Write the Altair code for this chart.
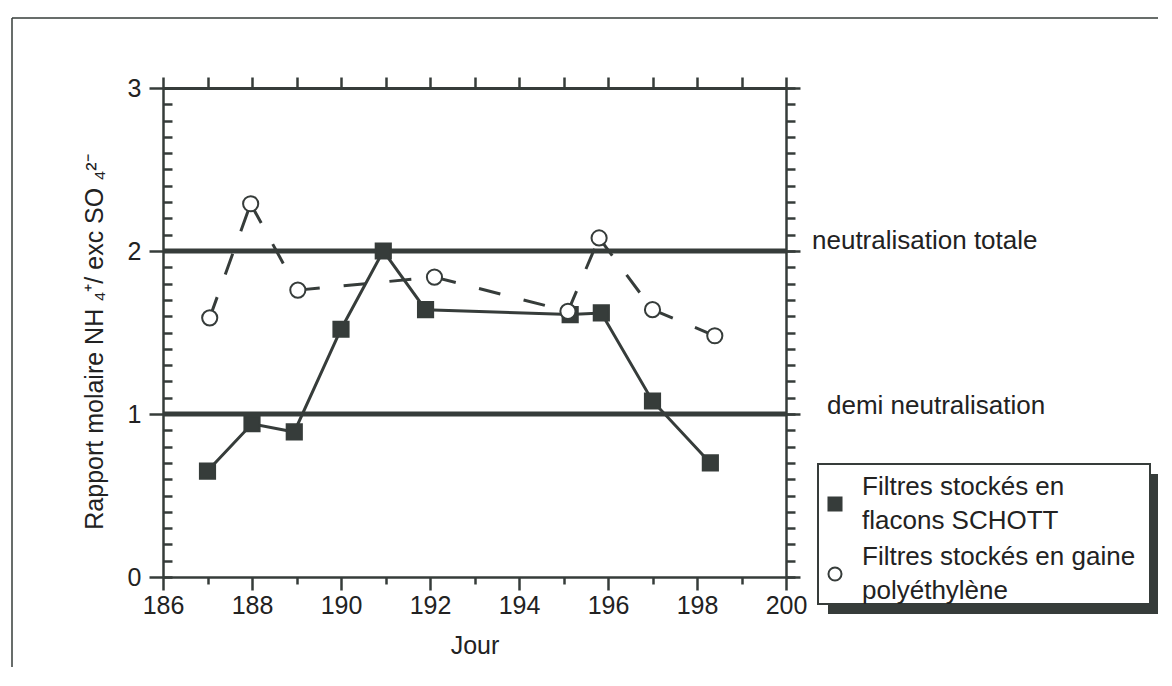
import altair as alt
import pandas as pd

# ---- data ----
sq_day = [187.0, 188.0, 188.95, 190.0, 190.95, 191.9, 195.15, 195.85, 197.0, 198.3]
sq_ratio = [0.65, 0.94, 0.89, 1.52, 2.0, 1.64, 1.61, 1.62, 1.08, 0.70]
ci_day = [187.05, 187.97, 189.03, 192.1, 195.1, 195.8, 197.0, 198.4]
ci_ratio = [1.59, 2.29, 1.76, 1.84, 1.63, 2.08, 1.64, 1.48]
series_names = ["Filtres stockés en|flacons SCHOTT", "Filtres stockés en gaine|polyéthylène"]
ref_levels = [2, 1]
ref_labels = ["neutralisation totale", "demi neutralisation"]
x_major = [186, 188, 190, 192, 194, 196, 198, 200]
x_minor = [187, 189, 191, 193, 195, 197, 199]
x_all = list(range(186, 201))
y_major = [0, 1, 2, 3]
y_minor = [round(i / 10, 1) for i in range(31)]

INK = "#363c3a"
TXT = "#222222"
FONT = "Liberation Sans"
W, H = 623, 489

sq_df = pd.DataFrame({"day": sq_day, "ratio": sq_ratio, "serie": series_names[0]})
ci_df = pd.DataFrame({"day": ci_day, "ratio": ci_ratio, "serie": series_names[1]})
pts_df = pd.concat([sq_df, ci_df], ignore_index=True)
seg_rows = []
for i in range(len(ci_day) - 1):
    seg_rows.append({"seg": i, "day": ci_day[i], "ratio": ci_ratio[i]})
    seg_rows.append({"seg": i, "day": ci_day[i + 1], "ratio": ci_ratio[i + 1]})
seg_df = pd.DataFrame(seg_rows)
ref_df = pd.DataFrame({"level": ref_levels, "label": ref_labels})

xs = alt.Scale(domain=[186, 200], nice=False, zero=False)
ys = alt.Scale(domain=[0, 3], nice=False, zero=False)

common = dict(grid=False, domainColor=INK, tickColor=INK, labelColor=TXT,
              titleColor=TXT, labelFont=FONT, titleFont=FONT, tickWidth=2.5,
              domainWidth=2.5)

X1 = alt.Axis(orient="bottom", values=x_major, tickSize=13, labelFontSize=25,
              labelPadding=3, labelFlush=False, labelOverlap=False, title="Jour",
              titleFontSize=25, titleFontWeight="normal", titlePadding=15, **common)
X2 = alt.Axis(orient="bottom", values=x_minor, tickSize=7, labels=False,
              domain=False, title=None, **common)
X3 = alt.Axis(orient="top", values=x_all, tickSize=11, labels=False,
              title=None, **{**common, "domainWidth": 3})
Y1 = alt.Axis(orient="left", values=y_major, tickSize=14, labelFontSize=25,
              labelPadding=8, labelFlush=False, labelOverlap=False,
              title="Rapport molaire NH ₄⁺/ exc SO ₄²⁻", titleFontSize=25,
              titleFontWeight="normal", titlePadding=20, titleY=H / 2 + 9,
              **common)
Y2 = alt.Axis(orient="right", offset=-W, values=y_minor, tickSize=9,
              labels=False, domain=False, title=None, **common)
Y3 = alt.Axis(orient="right", values=y_minor, tickSize=9, labels=False,
              title=None, **common)
Y4 = alt.Axis(orient="right", values=y_major, tickSize=14, labels=False,
              domain=False, title=None, **common)

one = alt.Data(values=[{}])

frame_top = alt.Chart(one).mark_rule(color=INK, strokeWidth=1.5).encode(
    x=alt.value(-151), x2=alt.value(W + 400), y=alt.value(-70))
frame_left = alt.Chart(one).mark_rule(color=INK, strokeWidth=1.5).encode(
    x=alt.value(-151), y=alt.value(-70), y2=alt.value(H + 120))

shadow_r = alt.Chart(one).mark_rect(color=INK).encode(
    x=alt.value(987), x2=alt.value(997), y=alt.value(386), y2=alt.value(526))
shadow_b = alt.Chart(one).mark_rect(color=INK).encode(
    x=alt.value(665), x2=alt.value(997), y=alt.value(516), y2=alt.value(526))
box = alt.Chart(one).mark_rect(fill="white", stroke=INK, strokeWidth=2).encode(
    x=alt.value(655), x2=alt.value(987), y=alt.value(376), y2=alt.value(516))

rules = alt.Chart(ref_df).mark_rule(color=INK, strokeWidth=5).encode(
    y=alt.Y("level:Q", scale=ys, axis=Y1))

annot_tot = alt.Chart(ref_df).transform_filter("datum.level == 2").mark_text(
    align="left", baseline="middle", font=FONT, fontSize=26, color=TXT,
    dx=26, dy=-10).encode(
    x=alt.X(datum=200, scale=xs, axis=None),
    y=alt.Y("level:Q", scale=ys, axis=None), text="label:N")
annot_demi = alt.Chart(ref_df).transform_filter("datum.level == 1").mark_text(
    align="left", baseline="middle", font=FONT, fontSize=26, color=TXT,
    dx=41, dy=-8).encode(
    x=alt.X(datum=200, scale=xs, axis=None),
    y=alt.Y("level:Q", scale=ys, axis=None), text="label:N")

sq_line = alt.Chart(sq_df).mark_line(color=INK, strokeWidth=3).encode(
    x=alt.X("day:Q", scale=xs, axis=X1),
    y=alt.Y("ratio:Q", scale=ys, axis=Y2))

ci_line = alt.Chart(seg_df).mark_line(color=INK, strokeWidth=3,
                                      strokeDash=[22, 24]).encode(
    x=alt.X("day:Q", scale=xs, axis=X2),
    y=alt.Y("ratio:Q", scale=ys, axis=Y3),
    detail="seg:N")

legend = alt.Legend(orient="none", legendX=659, legendY=403, title=None,
                    labelExpr="split(datum.label, '|')", labelFontSize=26,
                    labelFont=FONT, labelColor=TXT, symbolSize=170,
                    symbolStrokeWidth=2, labelOffset=14, labelBaseline="line-bottom",
                    rowPadding=10, labelLimit=500, zindex=1)

points = alt.Chart(pts_df).mark_point(filled=True, opacity=1, size=230,
                                      strokeWidth=2).encode(
    x=alt.X("day:Q", scale=xs, axis=X3),
    y=alt.Y("ratio:Q", scale=ys, axis=Y4),
    shape=alt.Shape("serie:N", scale=alt.Scale(domain=series_names,
                                               range=["square", "circle"]),
                    legend=legend),
    fill=alt.Fill("serie:N", scale=alt.Scale(domain=series_names,
                                             range=[INK, "white"]),
                  legend=legend),
    stroke=alt.Stroke("serie:N", scale=alt.Scale(domain=series_names,
                                                 range=[INK, INK]),
                      legend=legend),
)

chart = alt.layer(
    frame_top, frame_left, shadow_r, shadow_b, box, rules, annot_tot,
    annot_demi, sq_line, ci_line, points
).resolve_axis(x="independent", y="independent").properties(
    width=W, height=H,
    padding={"left": 155, "top": 80, "right": 372, "bottom": 90},
    autosize=alt.AutoSizeParams(type="none"),
    background="white",
).configure(
    style={"guide-label": {"lineHeight": 34}}
).configure_view(stroke=None)

chart.save("out.html", embed_options={"renderer": "svg", "actions": False})
